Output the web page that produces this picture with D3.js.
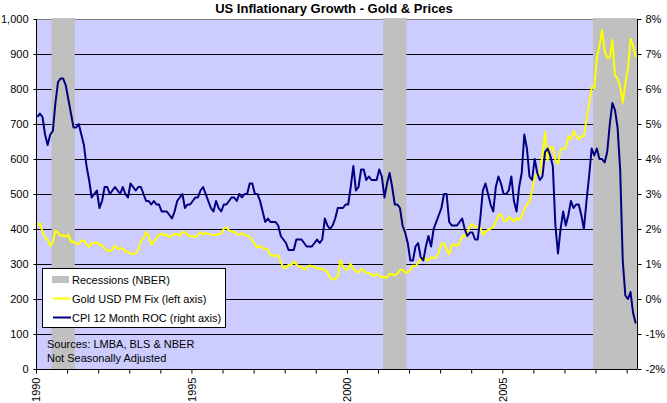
<!DOCTYPE html>
<html>
<head>
<meta charset="utf-8">
<script src="https://cdn.jsdelivr.net/npm/d3@7"></script>
<style>
  html, body { margin: 0; padding: 0; background: #fff; }
  svg { display: block; font-family: "Liberation Sans", Arial, sans-serif; }
</style>
</head>
<body>
<svg id="chart" width="667" height="403"></svg>
<script>
// ---------- DATA ----------
const startYear = 1990;
const titleText = "US Inflationary Growth - Gold & Prices";

// CPI 12-month rate of change (%), monthly Jan 1990 - Apr 2009
const cpiValues = [
  5.2, 5.3, 5.2, 4.7, 4.4, 4.7, 4.8, 5.6, 6.2, 6.3, 6.3, 6.1,
  5.7, 5.3, 4.9, 4.9, 5.0, 4.7, 4.4, 3.8, 3.4, 2.9, 3.0, 3.1,
  2.6, 2.8, 3.2, 3.2, 3.0, 3.1, 3.2, 3.1, 3.0, 3.2, 3.0, 2.9,
  3.3, 3.2, 3.1, 3.2, 3.2, 3.0, 2.8, 2.8, 2.7, 2.8, 2.7, 2.7,
  2.5, 2.5, 2.5, 2.4, 2.3, 2.5, 2.8, 2.9, 3.0, 2.6, 2.7, 2.7,
  2.8, 2.9, 2.9, 3.1, 3.2, 3.0, 2.8, 2.6, 2.5, 2.8, 2.6, 2.5,
  2.7, 2.7, 2.8, 2.9, 2.9, 2.8, 3.0, 2.9, 3.0, 3.0, 3.3, 3.3,
  3.0, 3.0, 2.8, 2.5, 2.2, 2.3, 2.2, 2.2, 2.2, 2.1, 1.8, 1.7,
  1.6, 1.4, 1.4, 1.4, 1.7, 1.7, 1.7, 1.6, 1.5, 1.5, 1.5, 1.6,
  1.7, 1.6, 1.7, 2.3, 2.1, 2.0, 2.1, 2.3, 2.6, 2.6, 2.6, 2.7,
  2.7, 3.2, 3.8, 3.1, 3.2, 3.7, 3.7, 3.4, 3.5, 3.4, 3.4, 3.4,
  3.7, 3.5, 2.9, 3.3, 3.6, 3.2, 2.7, 2.7, 2.6, 2.1, 1.9, 1.6,
  1.1, 1.1, 1.5, 1.6, 1.2, 1.1, 1.5, 1.8, 1.5, 2.0, 2.2, 2.4,
  2.6, 3.0, 3.0, 2.2, 2.1, 2.1, 2.1, 2.2, 2.3, 2.0, 1.8, 1.9,
  1.9, 1.7, 1.7, 2.3, 3.1, 3.3, 3.0, 2.7, 2.5, 3.2, 3.5, 3.3,
  3.0, 3.0, 3.1, 3.5, 2.8, 2.5, 3.2, 3.6, 4.7, 4.3, 3.5, 3.4,
  4.0, 3.6, 3.4, 3.5, 4.2, 4.3, 4.1, 3.8, 2.1, 1.3, 2.0, 2.5,
  2.1, 2.4, 2.8, 2.6, 2.7, 2.7, 2.4, 2.0, 2.8, 3.5, 4.3, 4.1,
  4.3, 4.0, 4.0, 3.9, 4.2, 5.0, 5.6, 5.4, 4.9, 3.7, 1.1, 0.1,
  0.0, 0.2, -0.4, -0.7
];

// Gold USD PM Fix, monthly average, Jan 1990 - Apr 2009
const goldValues = [
  410, 417, 393, 374, 369, 352, 362, 395, 389, 381, 382, 378,
  384, 363, 364, 358, 357, 367, 368, 356, 349, 359, 360, 361,
  355, 354, 344, 339, 337, 341, 353, 343, 345, 344, 335, 335,
  329, 329, 330, 342, 367, 372, 392, 380, 356, 364, 374, 383,
  387, 382, 384, 377, 381, 386, 386, 380, 392, 390, 384, 379,
  379, 377, 382, 391, 385, 388, 386, 384, 383, 383, 386, 387,
  400, 405, 396, 393, 392, 385, 384, 388, 383, 381, 378, 369,
  355, 347, 352, 345, 344, 341, 324, 324, 323, 325, 306, 289,
  289, 298, 296, 308, 299, 292, 293, 284, 289, 296, 294, 292,
  287, 287, 286, 283, 277, 261, 256, 257, 265, 311, 293, 283,
  285, 301, 286, 280, 275, 286, 282, 275, 274, 270, 266, 272,
  266, 262, 263, 261, 272, 270, 268, 272, 283, 283, 276, 276,
  282, 296, 294, 303, 315, 321, 313, 310, 319, 317, 319, 333,
  357, 359, 341, 328, 356, 356, 351, 360, 379, 379, 390, 408,
  414, 405, 407, 403, 384, 392, 398, 401, 405, 421, 439, 442,
  424, 423, 434, 429, 422, 431, 425, 438, 456, 470, 477, 510,
  550, 555, 557, 611, 677, 596, 634, 633, 598, 586, 628, 630,
  631, 665, 655, 679, 667, 656, 665, 665, 713, 755, 806, 803,
  890, 922, 968, 910, 889, 890, 940, 839, 830, 807, 761, 816,
  859, 943, 924, 890
];

// NBER recessions: [first month, last month] as "YYYY-MM"
const recessions = [
  ["1990-07", "1991-03"],
  ["2001-03", "2001-11"],
  ["2007-12", "2009-04"]
];

const leftTicks = [0, 100, 200, 300, 400, 500, 600, 700, 800, 900, 1000];
const rightTicks = [-2, -1, 0, 1, 2, 3, 4, 5, 6, 7, 8];
const xLabelYears = [1990, 1995, 2000, 2005];

const legendItems = [
  { label: "Recessions (NBER)", type: "rect", color: "#C0C0C0" },
  { label: "Gold USD PM Fix (left axis)", type: "line", color: "#FFFF00" },
  { label: "CPI 12 Month ROC (right axis)", type: "line", color: "#000080" }
];
const sourceLines = ["Sources: LMBA, BLS & NBER", "Not Seasonally Adjusted"];

// ---------- LAYOUT ----------
const svg = d3.select("#chart");
const L = 36, R = 637, T = 19, B = 369;
const nMonths = cpiValues.length;

const x = d3.scaleLinear().domain([0, nMonths]).range([L, R]);
const yL = d3.scaleLinear().domain([0, 1000]).range([B, T]);
const yR = d3.scaleLinear().domain([-2, 8]).range([B, T]);

const monthIndex = s => {
  const [y, m] = s.split("-").map(Number);
  return (y - startYear) * 12 + (m - 1);
};

// Title
svg.append("text")
  .attr("x", 334).attr("y", 13)
  .attr("text-anchor", "middle")
  .attr("font-size", "13px").attr("font-weight", "bold")
  .text(titleText);

// Plot background
svg.append("rect")
  .attr("x", L).attr("y", T).attr("width", R - L).attr("height", B - T)
  .attr("fill", "#CCCCFF");

// Gridlines
svg.append("g").selectAll("line")
  .data(leftTicks.filter(v => v > 0 && v < 1000))
  .join("line")
  .attr("x1", L).attr("x2", R)
  .attr("y1", d => Math.round(yL(d)) + 0.5).attr("y2", d => Math.round(yL(d)) + 0.5)
  .attr("stroke", "#000").attr("stroke-width", 1);

// Top border
svg.append("line")
  .attr("x1", L).attr("x2", R).attr("y1", T + 0.5).attr("y2", T + 0.5)
  .attr("stroke", "#808080");

// Recessions
svg.append("g").selectAll("rect")
  .data(recessions)
  .join("rect")
  .attr("x", d => x(monthIndex(d[0])))
  .attr("width", d => x(monthIndex(d[1]) + 1) - x(monthIndex(d[0])))
  .attr("y", T - 1).attr("height", B - T + 1)
  .attr("fill", "#C0C0C0");

// Lines
const goldLine = d3.line()
  .x((d, i) => x(i + 0.5))
  .y(d => yL(d));
const cpiLine = d3.line()
  .x((d, i) => x(i + 0.5))
  .y(d => yR(d));

svg.append("path").datum(goldValues)
  .attr("d", goldLine)
  .attr("fill", "none").attr("stroke", "#FFFF00").attr("stroke-width", 2)
  .attr("stroke-linejoin", "round");

svg.append("path").datum(cpiValues)
  .attr("d", cpiLine)
  .attr("fill", "none").attr("stroke", "#000080").attr("stroke-width", 2)
  .attr("stroke-linejoin", "round");

// Left axis
const leftAxis = d3.axisLeft(yL).tickValues(leftTicks)
  .tickSize(3).tickPadding(5).tickFormat(d3.format(","));
const gL = svg.append("g").attr("transform", `translate(${L + 0.5},0)`).call(leftAxis);
gL.select(".domain").remove();
gL.append("line").attr("y1", T).attr("y2", B).attr("stroke", "#000");
gL.selectAll("text").attr("font-size", "11px").attr("fill", "#000")
  .attr("font-family", "'Liberation Sans', Arial, sans-serif");

// Right axis
const rightAxis = d3.axisRight(yR).tickValues(rightTicks)
  .tickSize(4).tickPadding(4).tickFormat(d => d + "%");
const gR = svg.append("g").attr("transform", `translate(${R + 0.5},0)`).call(rightAxis);
gR.select(".domain").remove();
gR.append("line").attr("y1", T).attr("y2", B).attr("stroke", "#000");
gR.selectAll("text").attr("font-size", "11px").attr("fill", "#000")
  .attr("font-family", "'Liberation Sans', Arial, sans-serif");

// Bottom axis
const yearTicks = d3.range(0, nMonths + 1, 12);
const bottomAxis = d3.axisBottom(x).tickValues(yearTicks).tickSize(4)
  .tickFormat(d => {
    const yr = startYear + d / 12;
    return xLabelYears.includes(yr) ? String(yr) : "";
  });
const gB = svg.append("g").attr("transform", `translate(0,${B + 0.5})`).call(bottomAxis);
gB.select(".domain").remove();
gB.append("line").attr("x1", L).attr("x2", R).attr("stroke", "#000");
gB.selectAll(".tick text")
  .attr("font-size", "11px").attr("fill", "#000")
  .attr("font-family", "'Liberation Sans', Arial, sans-serif")
  .attr("text-anchor", "end")
  .attr("transform", "translate(0,8) rotate(-90)")
  .attr("x", 0).attr("y", 0).attr("dy", "0.35em");

// Legend
const lg = svg.append("g");
lg.append("rect")
  .attr("x", 42.5).attr("y", 268.5).attr("width", 183).attr("height", 59)
  .attr("fill", "#fff").attr("stroke", "#000");
const rowY = [279.5, 298.5, 317.5];
legendItems.forEach((it, i) => {
  if (it.type === "rect") {
    lg.append("rect").attr("x", 52).attr("y", rowY[i] - 3.5).attr("width", 17).attr("height", 7)
      .attr("fill", it.color);
  } else {
    lg.append("line").attr("x1", 53).attr("x2", 71).attr("y1", rowY[i]).attr("y2", rowY[i])
      .attr("stroke", it.color).attr("stroke-width", 2);
  }
  lg.append("text").attr("x", 72).attr("y", rowY[i] + 4)
    .attr("font-size", "11px").attr("fill", "#000").text(it.label);
});

// Sources
sourceLines.forEach((s, i) => {
  svg.append("text").attr("x", 47).attr("y", 348 + i * 13.5)
    .attr("font-size", "11px").attr("fill", "#000").text(s);
});
</script>
</body>
</html>
